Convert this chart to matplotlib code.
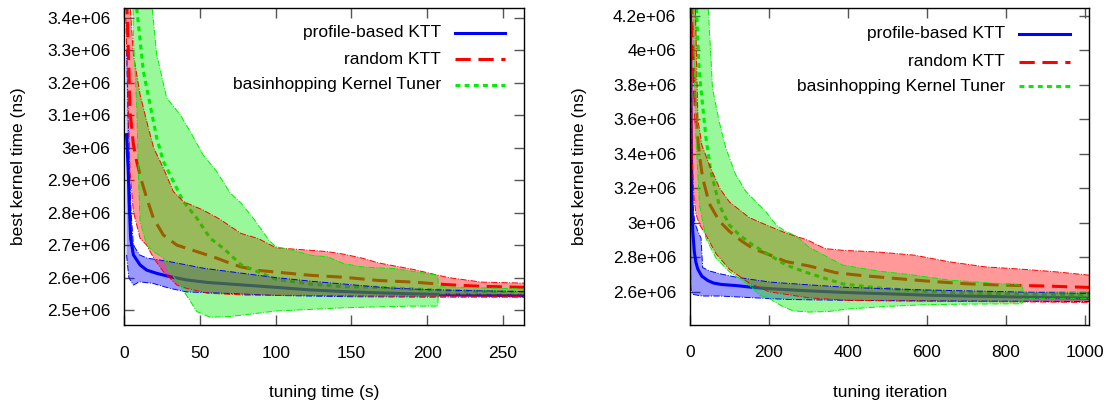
import numpy as np
import matplotlib
matplotlib.use("Agg")
import matplotlib.pyplot as plt
from matplotlib.ticker import MultipleLocator, FuncFormatter

plt.rcParams['font.family'] = ['Liberation Sans', 'DejaVu Sans']

# ---------------- left panel: best kernel time vs tuning time (s) ----------------
# profile-based KTT
t_prof_x = [1.5, 2.6, 3.3, 4.2, 6, 10.4, 14.8, 21.4, 30, 41, 55, 70, 100, 123, 145, 168, 191, 214, 236, 264]
t_prof_y = [3.04, 2.927, 2.824, 2.721, 2.67, 2.639, 2.623, 2.613, 2.603, 2.593, 2.585, 2.58, 2.57,
            2.562, 2.557, 2.553, 2.55, 2.548, 2.546, 2.544]
t_prof_hi_x = [1.5, 2.5, 3.5, 4.5, 6, 10, 15, 30, 52, 70, 100, 125, 150, 175, 200, 225, 264]
t_prof_hi_y = [3.3, 3.1, 2.93, 2.8, 2.70, 2.67, 2.66, 2.649, 2.629, 2.618, 2.6, 2.588, 2.578, 2.568,
               2.563, 2.56, 2.557]
t_prof_lo_x = [1.5, 3, 6, 10, 19, 30, 41, 70, 100, 150, 200, 264]
t_prof_lo_y = [2.67, 2.6, 2.577, 2.587, 2.582, 2.567, 2.556, 2.551, 2.545, 2.541, 2.54, 2.54]

# random KTT
t_rand_x = [1, 2, 3, 3.8, 6, 8.2, 11.5, 14.8, 19.2, 25.8, 34.7, 47.9, 61, 70, 77, 88.6, 100, 123,
            145, 168, 191, 214, 236, 264]
t_rand_y = [3.5, 3.4, 3.25, 3.112, 3.01, 2.958, 2.896, 2.845, 2.783, 2.731, 2.70, 2.68, 2.66, 2.644,
            2.633, 2.622, 2.617, 2.607, 2.601, 2.591, 2.586, 2.578, 2.573, 2.57]
t_rand_hi_x = [1, 3.8, 6, 10.4, 14.8, 19.4, 25.8, 32.4, 39, 52, 63, 77, 88.6, 100, 111, 123, 134,
               145, 157, 168, 191, 214, 236, 264]
t_rand_hi_y = [3.6, 3.44, 3.287, 3.164, 3.081, 2.999, 2.937, 2.865, 2.834, 2.808, 2.78, 2.736, 2.72,
               2.692, 2.688, 2.684, 2.68, 2.672, 2.66, 2.645, 2.625, 2.60, 2.586, 2.583]
t_rand_lo_x = [1, 2.6, 3.8, 6, 10.4, 14.8, 19.4, 25.8, 34.7, 41, 55, 80, 120, 180, 264]
t_rand_lo_y = [3.4, 3.133, 2.927, 2.803, 2.721, 2.70, 2.66, 2.618, 2.577, 2.567, 2.552, 2.546,
               2.545, 2.543, 2.542]

# basinhopping Kernel Tuner
t_basin_x = [5, 8.2, 12.6, 17, 21.4, 25.8, 32.4, 39, 47.9, 56.7, 65.5, 77, 88.6, 100, 123, 145, 168,
             191, 214, 236, 264]
t_basin_y = [3.7, 3.43, 3.235, 3.133, 3.03, 2.958, 2.896, 2.834, 2.783, 2.721, 2.69, 2.64, 2.617,
             2.595, 2.58, 2.572, 2.57, 2.565, 2.56, 2.557, 2.555]
t_basin_hi_x = [5, 18, 21.4, 28, 36.8, 43.5, 52, 61, 70, 77, 86, 95.5, 100, 111, 123, 134, 145, 157,
                168, 180, 207, 207.5, 264]
t_basin_hi_y = [3.7, 3.45, 3.287, 3.153, 3.102, 3.05, 2.978, 2.927, 2.86, 2.83, 2.778, 2.715, 2.695,
                2.684, 2.669, 2.664, 2.643, 2.633, 2.63, 2.627, 2.607, 2.572, 2.565]
t_basin_lo_x = [5, 6, 8.2, 9.3, 10.4, 14.8, 19.4, 25.8, 30, 36.8, 41, 48, 56.7, 70, 100, 123, 145,
                168, 191, 207, 207.5, 264]
t_basin_lo_y = [3.7, 3.339, 3.133, 2.927, 2.772, 2.70, 2.68, 2.66, 2.618, 2.577, 2.546, 2.495, 2.478,
                2.48, 2.497, 2.502, 2.507, 2.51, 2.512, 2.512, 2.55, 2.55]

# ---------------- right panel: best kernel time vs tuning iteration ----------------
i_prof_x = [1, 3, 5, 7, 11, 15, 20, 30, 45, 60, 80, 120, 160, 200, 300, 400, 500, 600, 700, 800,
            900, 1011]
i_prof_y = [4.4, 3.6, 3.1, 2.95, 2.83, 2.77, 2.73, 2.69, 2.665, 2.65, 2.642, 2.635, 2.625, 2.618,
            2.605, 2.595, 2.588, 2.58, 2.575, 2.571, 2.567, 2.563]
i_prof_hi_x = [1, 4, 8, 12, 20, 28, 32, 50, 74, 116, 159, 207, 300, 400, 600, 800, 1011]
i_prof_hi_y = [4.4, 3.4, 3.1, 3.0, 2.95, 2.91, 2.74, 2.72, 2.705, 2.685, 2.67, 2.655, 2.64, 2.625,
               2.61, 2.6, 2.59]
i_prof_lo_x = [1, 2, 7, 30, 75, 120, 160, 250, 400, 600, 800, 1011]
i_prof_lo_y = [3.0, 2.62, 2.585, 2.575, 2.575, 2.57, 2.565, 2.555, 2.55, 2.547, 2.545, 2.543]

i_rand_x = [1, 4, 7, 11, 15, 24, 32, 49, 74, 100, 133, 160, 200, 243, 300, 370, 430, 520, 610, 700,
            800, 900, 1011]
i_rand_y = [4.5, 4.3, 4.07, 3.78, 3.59, 3.39, 3.26, 3.11, 3.01, 2.95, 2.89, 2.85, 2.815, 2.775,
            2.75, 2.71, 2.695, 2.677, 2.66, 2.646, 2.638, 2.633, 2.625]
i_rand_hi_x = [1, 12, 16, 20, 30, 50, 75, 100, 150, 200, 243, 297, 342, 387, 477, 568, 658, 748,
               838, 928, 1011]
i_rand_hi_y = [4.5, 4.4, 4.0, 3.6, 3.45, 3.33, 3.2, 3.12, 3.03, 2.98, 2.94, 2.9, 2.85, 2.84, 2.83,
               2.812, 2.773, 2.744, 2.731, 2.715, 2.696]
i_rand_lo_x = [1, 3, 5, 10, 15, 24, 40, 66, 100, 150, 200, 300, 400, 600, 800, 1011]
i_rand_lo_y = [4.3, 3.9, 3.4, 3.15, 3.05, 2.99, 2.93, 2.82, 2.73, 2.65, 2.6, 2.565, 2.55, 2.545,
               2.542, 2.538]

i_basin_x = [14, 19.4, 23.6, 32, 40.5, 53, 74, 99.5, 125, 159, 201, 243, 297, 387, 477, 568, 658,
             838, 1011]
i_basin_y = [4.4, 4.069, 3.875, 3.682, 3.489, 3.296, 3.103, 2.987, 2.929, 2.871, 2.813, 2.755, 2.71,
             2.645, 2.622, 2.606, 2.596, 2.585, 2.578]
i_basin_hi_x = [5, 45, 57, 74, 91, 116, 142, 167, 192, 218, 243, 268, 300, 387, 477, 568, 658, 842,
                843, 1011]
i_basin_hi_y = [4.5, 4.3, 3.78, 3.585, 3.431, 3.277, 3.18, 3.122, 3.064, 2.987, 2.948, 2.925, 2.86,
                2.754, 2.72, 2.696, 2.667, 2.638, 2.6, 2.6]
i_basin_lo_x = [5, 7, 11, 15, 24, 40.5, 66, 83, 99.5, 125, 159, 175, 201, 230, 260, 300, 350, 400,
                500, 600, 700, 842, 843, 1011]
i_basin_lo_y = [4.5, 4.3, 3.875, 3.489, 3.103, 2.909, 2.794, 2.755, 2.716, 2.678, 2.62, 2.581, 2.561,
                2.52, 2.49, 2.482, 2.485, 2.5, 2.515, 2.525, 2.528, 2.53, 2.56, 2.56]

labels = ['profile-based KTT', 'random KTT', 'basinhopping Kernel Tuner']
colors = ['#0000ff', '#ff0000', '#00ee00']
SCALE = 1e6  # values above are in units of 1e6 ns


def band(ax, xu, yu, xl, yl, color):
    xu, yu = np.asarray(xu), np.asarray(yu) * SCALE
    xl, yl = np.asarray(xl), np.asarray(yl) * SCALE
    ax.fill(np.concatenate([xu, xl[::-1]]), np.concatenate([yu, yl[::-1]]),
            color=color, alpha=0.4, lw=0, zorder=3)
    ax.plot(xu, yu, color=color, lw=0.7, ls='-.', zorder=3.5)
    ax.plot(xl, yl, color=color, lw=0.7, ls='-.', zorder=3.5)


def mean_lines(ax, series):
    styles = [dict(ls='-'), dict(ls=(0, (5, 2.5))), dict(ls=(0, (1.6, 1.4)))]
    for (x, y), c, st in zip(series, colors, styles):
        ax.plot(x, np.asarray(y) * SCALE, color=c, lw=2.2, zorder=2, **st)


def legend(ax, text_x, line_x0, line_x1, rows):
    styles = [dict(ls='-'), dict(ls=(0, (5, 2.5))), dict(ls=(0, (1.6, 1.4)))]
    for lab, c, st, ry in zip(labels, colors, styles, rows):
        ax.text(text_x, ry, lab, transform=ax.transAxes, ha='right', va='center', fontsize=12.5,
                zorder=6)
        ax.plot([line_x0, line_x1], [ry, ry], transform=ax.transAxes, color=c, lw=2.2,
                zorder=6, **st)


def style(ax):
    for sp in ax.spines.values():
        sp.set_linewidth(1.0)
        sp.set_zorder(7)
    ax.tick_params(axis='both', which='major', direction='in', length=7.5, width=1.0,
                   color='#555555', top=True, right=True, labelsize=12.5)
    ax.tick_params(axis='x', pad=15)
    ax.tick_params(axis='y', pad=10)
    ax.yaxis.set_major_formatter(FuncFormatter(lambda v, _: '%g' % v))


fig = plt.figure(figsize=(11.15, 4.03), dpi=100)
ax1 = fig.add_axes([124.3 / 1115, 1 - 325 / 403, 399.7 / 1115, 317 / 403])
ax2 = fig.add_axes([690 / 1115, 1 - 324.5 / 403, 399.3 / 1115, 316.5 / 403])

# left panel
mean_lines(ax1, [(t_prof_x, t_prof_y), (t_rand_x, t_rand_y), (t_basin_x, t_basin_y)])
band(ax1, t_prof_hi_x, t_prof_hi_y, t_prof_lo_x, t_prof_lo_y, colors[0])
band(ax1, t_rand_hi_x, t_rand_hi_y, t_rand_lo_x, t_rand_lo_y, colors[1])
band(ax1, t_basin_hi_x, t_basin_hi_y, t_basin_lo_x, t_basin_lo_y, colors[2])
ax1.set_xlim(0, 264)
ax1.set_ylim(2.454e6, 3.43e6)
ax1.xaxis.set_major_locator(MultipleLocator(50))
ax1.yaxis.set_major_locator(MultipleLocator(1e5))
style(ax1)
ax1.set_xlabel('tuning time (s)', fontsize=12.5)
ax1.set_ylabel('best kernel time (ns)', fontsize=12.5)
ax1.xaxis.set_label_coords(0.5, -0.19)
ax1.yaxis.set_label_coords(-0.246, 0.5)
legend(ax1, 0.792, 0.827, 0.952, [0.922, 0.838, 0.758])

# right panel
mean_lines(ax2, [(i_prof_x, i_prof_y), (i_rand_x, i_rand_y), (i_basin_x, i_basin_y)])
band(ax2, i_prof_hi_x, i_prof_hi_y, i_prof_lo_x, i_prof_lo_y, colors[0])
band(ax2, i_rand_hi_x, i_rand_hi_y, i_rand_lo_x, i_rand_lo_y, colors[1])
band(ax2, i_basin_hi_x, i_basin_hi_y, i_basin_lo_x, i_basin_lo_y, colors[2])
ax2.set_xlim(0, 1011)
ax2.set_ylim(2.41e6, 4.245e6)
ax2.xaxis.set_major_locator(MultipleLocator(200))
ax2.yaxis.set_major_locator(MultipleLocator(2e5))
style(ax2)
ax2.set_xlabel('tuning iteration', fontsize=12.5)
ax2.set_ylabel('best kernel time (ns)', fontsize=12.5)
ax2.xaxis.set_label_coords(0.5, -0.19)
ax2.yaxis.set_label_coords(-0.259, 0.5)
legend(ax2, 0.788, 0.824, 0.952, [0.919, 0.83, 0.752])

fig.savefig('out.png', dpi=100)
